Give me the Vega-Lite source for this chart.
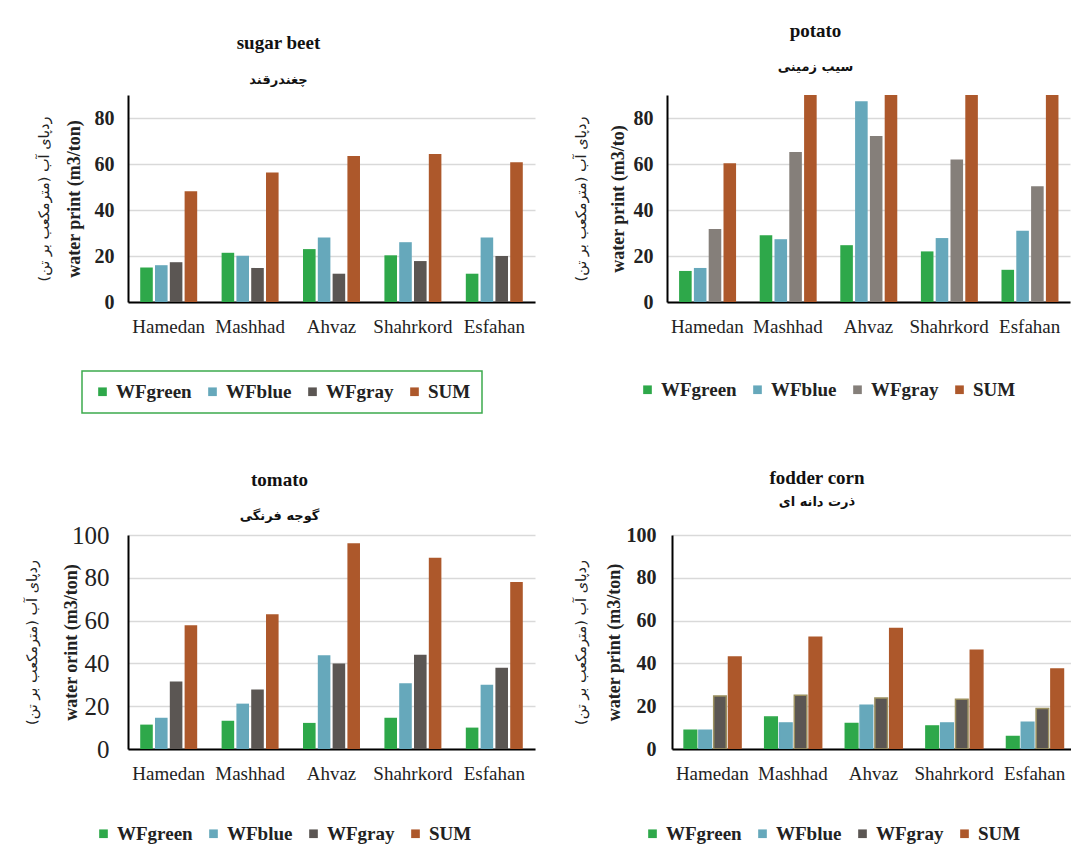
{
  "$schema": "https://vega.github.io/schema/vega-lite/v6.json",
  "padding": {"left": 24, "top": 22, "right": 0, "bottom": 6},
  "datasets": {
    "sugar": [
      {"city": "Hamedan", "type": "WFgreen", "value": 15},
      {"city": "Hamedan", "type": "WFblue", "value": 16},
      {"city": "Hamedan", "type": "WFgray", "value": 17.3},
      {"city": "Hamedan", "type": "SUM", "value": 48.2},
      {"city": "Mashhad", "type": "WFgreen", "value": 21.4},
      {"city": "Mashhad", "type": "WFblue", "value": 20.1},
      {"city": "Mashhad", "type": "WFgray", "value": 14.8},
      {"city": "Mashhad", "type": "SUM", "value": 56.3},
      {"city": "Ahvaz", "type": "WFgreen", "value": 23},
      {"city": "Ahvaz", "type": "WFblue", "value": 28},
      {"city": "Ahvaz", "type": "WFgray", "value": 12.3},
      {"city": "Ahvaz", "type": "SUM", "value": 63.5},
      {"city": "Shahrkord", "type": "WFgreen", "value": 20.3},
      {"city": "Shahrkord", "type": "WFblue", "value": 26},
      {"city": "Shahrkord", "type": "WFgray", "value": 17.8},
      {"city": "Shahrkord", "type": "SUM", "value": 64.3},
      {"city": "Esfahan", "type": "WFgreen", "value": 12.3},
      {"city": "Esfahan", "type": "WFblue", "value": 28},
      {"city": "Esfahan", "type": "WFgray", "value": 20},
      {"city": "Esfahan", "type": "SUM", "value": 60.8}
    ],
    "potato": [
      {"city": "Hamedan", "type": "WFgreen", "value": 13.5},
      {"city": "Hamedan", "type": "WFblue", "value": 14.8},
      {"city": "Hamedan", "type": "WFgray", "value": 31.7},
      {"city": "Hamedan", "type": "SUM", "value": 60.3},
      {"city": "Mashhad", "type": "WFgreen", "value": 29},
      {"city": "Mashhad", "type": "WFblue", "value": 27.3},
      {"city": "Mashhad", "type": "WFgray", "value": 65.2},
      {"city": "Mashhad", "type": "SUM", "value": 121.5},
      {"city": "Ahvaz", "type": "WFgreen", "value": 24.7},
      {"city": "Ahvaz", "type": "WFblue", "value": 87.3},
      {"city": "Ahvaz", "type": "WFgray", "value": 72.2},
      {"city": "Ahvaz", "type": "SUM", "value": 184.2},
      {"city": "Shahrkord", "type": "WFgreen", "value": 22},
      {"city": "Shahrkord", "type": "WFblue", "value": 27.8},
      {"city": "Shahrkord", "type": "WFgray", "value": 62},
      {"city": "Shahrkord", "type": "SUM", "value": 111.8},
      {"city": "Esfahan", "type": "WFgreen", "value": 14},
      {"city": "Esfahan", "type": "WFblue", "value": 31},
      {"city": "Esfahan", "type": "WFgray", "value": 50.3},
      {"city": "Esfahan", "type": "SUM", "value": 95.3}
    ],
    "tomato": [
      {"city": "Hamedan", "type": "WFgreen", "value": 11.4},
      {"city": "Hamedan", "type": "WFblue", "value": 14.6},
      {"city": "Hamedan", "type": "WFgray", "value": 31.6},
      {"city": "Hamedan", "type": "SUM", "value": 57.8},
      {"city": "Mashhad", "type": "WFgreen", "value": 13.2},
      {"city": "Mashhad", "type": "WFblue", "value": 21.2},
      {"city": "Mashhad", "type": "WFgray", "value": 27.8},
      {"city": "Mashhad", "type": "SUM", "value": 63},
      {"city": "Ahvaz", "type": "WFgreen", "value": 12.2},
      {"city": "Ahvaz", "type": "WFblue", "value": 43.8},
      {"city": "Ahvaz", "type": "WFgray", "value": 40},
      {"city": "Ahvaz", "type": "SUM", "value": 96.2},
      {"city": "Shahrkord", "type": "WFgreen", "value": 14.6},
      {"city": "Shahrkord", "type": "WFblue", "value": 30.7},
      {"city": "Shahrkord", "type": "WFgray", "value": 44.1},
      {"city": "Shahrkord", "type": "SUM", "value": 89.4},
      {"city": "Esfahan", "type": "WFgreen", "value": 10},
      {"city": "Esfahan", "type": "WFblue", "value": 30},
      {"city": "Esfahan", "type": "WFgray", "value": 38},
      {"city": "Esfahan", "type": "SUM", "value": 78}
    ],
    "corn": [
      {"city": "Hamedan", "type": "WFgreen", "value": 8.8},
      {"city": "Hamedan", "type": "WFblue", "value": 8.8},
      {"city": "Hamedan", "type": "WFgray", "value": 24.8},
      {"city": "Hamedan", "type": "SUM", "value": 43},
      {"city": "Mashhad", "type": "WFgreen", "value": 14.9},
      {"city": "Mashhad", "type": "WFblue", "value": 12.2},
      {"city": "Mashhad", "type": "WFgray", "value": 25.1},
      {"city": "Mashhad", "type": "SUM", "value": 52.2},
      {"city": "Ahvaz", "type": "WFgreen", "value": 11.9},
      {"city": "Ahvaz", "type": "WFblue", "value": 20.4},
      {"city": "Ahvaz", "type": "WFgray", "value": 23.8},
      {"city": "Ahvaz", "type": "SUM", "value": 56.3},
      {"city": "Shahrkord", "type": "WFgreen", "value": 10.8},
      {"city": "Shahrkord", "type": "WFblue", "value": 12.2},
      {"city": "Shahrkord", "type": "WFgray", "value": 23.3},
      {"city": "Shahrkord", "type": "SUM", "value": 46.2},
      {"city": "Esfahan", "type": "WFgreen", "value": 5.8},
      {"city": "Esfahan", "type": "WFblue", "value": 12.5},
      {"city": "Esfahan", "type": "WFgray", "value": 18.9},
      {"city": "Esfahan", "type": "SUM", "value": 37.4}
    ]
  },
  "vconcat": [
    {
      "hconcat": [
        {
          "width": 407,
          "height": 207,
          "data": {"name": "sugar"},
          "title": {"text": "sugar beet", "subtitle": "چغندرقند", "subtitlePadding": 21, "offset": 8, "frame": "bounds", "dx": -7},
          "layer": [
            {
              "mark": {"type": "bar", "clip": true},
              "encoding": {
                "x": {"field": "city", "type": "nominal", "sort": ["Hamedan", "Mashhad", "Ahvaz", "Shahrkord", "Esfahan"], "title": null, "scale": {"paddingInner": 0.3, "paddingOuter": 0.15}},
                "xOffset": {"field": "type", "sort": ["WFgreen", "WFblue", "WFgray", "SUM"], "scale": {"paddingInner": 0.15}},
                "y": {"field": "value", "type": "quantitative", "scale": {"domain": [0, 90], "nice": false}, "axis": {"title": "water print (m3/ton)", "values": [0, 20, 40, 60, 80], "titlePadding": 11}},
                "color": {
                  "field": "type", "type": "nominal", "sort": ["WFgreen", "WFblue", "WFgray", "SUM"],
                  "scale": {"domain": ["WFgreen", "WFblue", "WFgray", "SUM"], "range": ["#2ea84a", "#66a8bb", "#5b5653", "#ad582b"]},
                  "legend": {"padding": 11, "legendX": -46, "legendY": 276, "encode": {"legend": {"update": {"stroke": {"value": "#3daa4d"}, "strokeWidth": {"value": 1.5}}}}}
                }
              }
            },
            {
              "mark": {"type": "bar", "clip": true, "opacity": 0},
              "encoding": {
                "y": {"field": "value", "type": "quantitative", "axis": {"orient": "left", "title": "ردپای آب (مترمکعب بر تن)", "labels": false, "domain": false, "grid": false, "ticks": false, "titlePadding": 77, "titleFont": "DejaVu Sans", "titleFontWeight": "normal", "titleFontSize": 14.5}}
              }
            }
          ],
          "resolve": {"axis": {"y": "independent"}}
        },
        {
          "width": 403,
          "height": 207,
          "data": {"name": "potato"},
          "title": {"text": "potato", "subtitle": "سیب زمینی", "subtitlePadding": 20, "offset": 21, "frame": "bounds", "dx": -6},
          "layer": [
            {
              "mark": {"type": "bar", "clip": true},
              "encoding": {
                "x": {"field": "city", "type": "nominal", "sort": ["Hamedan", "Mashhad", "Ahvaz", "Shahrkord", "Esfahan"], "title": null, "scale": {"paddingInner": 0.3, "paddingOuter": 0.15}},
                "xOffset": {"field": "type", "sort": ["WFgreen", "WFblue", "WFgray", "SUM"], "scale": {"paddingInner": 0.15}},
                "y": {"field": "value", "type": "quantitative", "scale": {"domain": [0, 90], "nice": false}, "axis": {"title": "water print (m3/to)", "values": [0, 20, 40, 60, 80], "titlePadding": 6}},
                "color": {"field": "type", "type": "nominal", "sort": ["WFgreen", "WFblue", "WFgray", "SUM"], "scale": {"domain": ["WFgreen", "WFblue", "WFgray", "SUM"], "range": ["#2ea84a", "#66a8bb", "#857f7a", "#ad582b"]}, "legend": {"legendX": -29, "legendY": 285}}
              }
            },
            {
              "mark": {"type": "bar", "clip": true, "opacity": 0},
              "encoding": {
                "y": {"field": "value", "type": "quantitative", "axis": {"orient": "left", "title": "ردپای آب (مترمکعب بر تن)", "labels": false, "domain": false, "grid": false, "ticks": false, "titlePadding": 79, "titleFont": "DejaVu Sans", "titleFontWeight": "normal", "titleFontSize": 14.5}}
              }
            }
          ],
          "resolve": {"axis": {"y": "independent"}}
        }
      ],
      "spacing": 38,
      "resolve": {"scale": {"color": "independent"}, "legend": {"color": "independent"}}
    },
    {
      "hconcat": [
        {
          "width": 407,
          "height": 214,
          "data": {"name": "tomato"},
          "title": {"text": "tomato", "subtitle": "گوجه فرنگی", "subtitlePadding": 20, "offset": 0, "frame": "bounds"},
          "layer": [
            {
              "mark": {"type": "bar", "clip": true},
              "encoding": {
                "x": {"field": "city", "type": "nominal", "sort": ["Hamedan", "Mashhad", "Ahvaz", "Shahrkord", "Esfahan"], "title": null, "scale": {"paddingInner": 0.3, "paddingOuter": 0.15}},
                "xOffset": {"field": "type", "sort": ["WFgreen", "WFblue", "WFgray", "SUM"], "scale": {"paddingInner": 0.15}},
                "y": {"field": "value", "type": "quantitative", "scale": {"domain": [0, 100], "nice": false}, "axis": {"title": "water orint (m3/ton)", "values": [0, 20, 40, 60, 80, 100], "labelFontWeight": "normal", "labelFontSize": 25, "labelPadding": 19, "titlePadding": -9}},
                "color": {"field": "type", "type": "nominal", "sort": ["WFgreen", "WFblue", "WFgray", "SUM"], "scale": {"domain": ["WFgreen", "WFblue", "WFgray", "SUM"], "range": ["#2ea84a", "#66a8bb", "#5b5653", "#ad582b"]}, "legend": {"legendX": -34, "legendY": 289}}
              }
            },
            {
              "mark": {"type": "bar", "clip": true, "opacity": 0},
              "encoding": {
                "y": {"field": "value", "type": "quantitative", "axis": {"orient": "left", "title": "ردپای آب (مترمکعب بر تن)", "labels": false, "domain": false, "grid": false, "ticks": false, "titlePadding": 89, "titleFont": "DejaVu Sans", "titleFontWeight": "normal", "titleFontSize": 14.5}}
              }
            }
          ],
          "resolve": {"axis": {"y": "independent"}}
        },
        {
          "width": 403,
          "height": 214,
          "data": {"name": "corn"},
          "title": {"text": "fodder corn", "subtitle": "ذرت دانه ای", "subtitlePadding": 8, "offset": 16, "frame": "bounds", "dx": -7},
          "layer": [
            {
              "mark": {"type": "bar", "clip": true, "strokeWidth": 1.5},
              "encoding": {
                "x": {"field": "city", "type": "nominal", "sort": ["Hamedan", "Mashhad", "Ahvaz", "Shahrkord", "Esfahan"], "title": null, "scale": {"paddingInner": 0.3, "paddingOuter": 0.15}},
                "xOffset": {"field": "type", "sort": ["WFgreen", "WFblue", "WFgray", "SUM"], "scale": {"paddingInner": 0.15}},
                "y": {"field": "value", "type": "quantitative", "scale": {"domain": [0, 100], "nice": false}, "axis": {"title": "water print (m3/ton)", "values": [0, 20, 40, 60, 80, 100], "labelPadding": 16, "titlePadding": 3}},
                "color": {"field": "type", "type": "nominal", "sort": ["WFgreen", "WFblue", "WFgray", "SUM"], "scale": {"domain": ["WFgreen", "WFblue", "WFgray", "SUM"], "range": ["#2ea84a", "#66a8bb", "#5b5653", "#ad582b"]}, "legend": {"legendX": -29, "legendY": 289}},
                "stroke": {"field": "type", "type": "nominal", "sort": ["WFgreen", "WFblue", "WFgray", "SUM"], "scale": {"domain": ["WFgreen", "WFblue", "WFgray", "SUM"], "range": ["#2ea84a", "#66a8bb", "#9c9160", "#ad582b"]}, "legend": {"legendX": -29, "legendY": 289}}
              }
            },
            {
              "mark": {"type": "bar", "clip": true, "opacity": 0},
              "encoding": {
                "y": {"field": "value", "type": "quantitative", "axis": {"orient": "left", "title": "ردپای آب (مترمکعب بر تن)", "labels": false, "domain": false, "grid": false, "ticks": false, "titlePadding": 84, "titleFont": "DejaVu Sans", "titleFontWeight": "normal", "titleFontSize": 14.5}}
              }
            }
          ],
          "resolve": {"axis": {"y": "independent"}}
        }
      ],
      "spacing": 38,
      "resolve": {"scale": {"color": "independent", "stroke": "independent"}, "legend": {"color": "independent", "stroke": "independent"}}
    }
  ],
  "spacing": 55,
  "resolve": {"scale": {"color": "independent", "stroke": "independent"}, "legend": {"color": "independent", "stroke": "independent"}},
  "config": {
    "font": "Liberation Serif",
    "view": {"stroke": null},
    "axis": {"labelFont": "Liberation Serif", "titleFont": "Liberation Serif", "ticks": false, "domainColor": "#000000", "gridColor": "#d9d9d9", "gridWidth": 1.5},
    "axisX": {"labelFontSize": 19, "labelAngle": 0, "labelColor": "#222222", "domainWidth": 2, "labelPadding": 15, "grid": false},
    "axisY": {"labelFontSize": 20, "labelFontWeight": "bold", "labelColor": "#222222", "domainWidth": 2, "labelPadding": 14, "titleFontSize": 18, "titleFontWeight": "bold", "titleColor": "#222222"},
    "title": {"font": "Liberation Serif", "fontSize": 19, "fontWeight": "bold", "color": "#111111", "subtitleFont": "DejaVu Sans", "subtitleFontSize": 13, "subtitleFontWeight": "bold", "subtitleColor": "#111111", "anchor": "middle"},
    "legend": {
      "orient": "none",
      "direction": "horizontal",
      "title": null,
      "symbolType": "square",
      "symbolSize": 75,
      "symbolStrokeWidth": 0,
      "labelFont": "Liberation Serif",
      "labelFontSize": 19,
      "labelFontWeight": "bold",
      "labelColor": "#222222",
      "columnPadding": 11,
      "labelOffset": 4
    }
  }
}
